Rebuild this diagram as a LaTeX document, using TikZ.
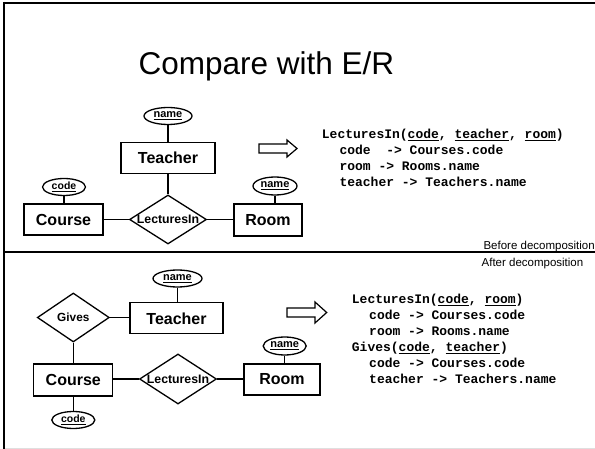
\documentclass[tikz,border=0pt]{standalone}
\usepackage{fontspec}
\setmainfont{Liberation Sans}
\newfontfamily\codefont{Liberation Mono}
\usetikzlibrary{shapes.geometric}
\tikzset{
  ent/.style={draw, line width=1.3pt, inner sep=0pt, font=\fontsize{16}{18}\selectfont\bfseries},
  attr/.style={draw, ellipse, line width=1.3pt, inner sep=0pt, minimum height=17pt, font=\fontsize{11}{12}\selectfont\bfseries},
  rel/.style={draw, diamond, line width=1.3pt, inner sep=0pt, font=\fontsize{12.3}{13}\selectfont\bfseries},
  conn/.style={line width=1.3pt},
  codeline/.style={anchor=base west, inner sep=0pt, font=\fontsize{13}{16}\codefont\bfseries},
  note/.style={anchor=base east, inner sep=0pt, font=\fontsize{11.5}{13}\selectfont},
  bigarrow/.style={draw, line width=1.2pt, fill=white, line join=miter},
  frame/.style={line width=2.2pt}
}
\begin{document}
\begin{tikzpicture}[x=1pt, y=-1pt]
\useasboundingbox (0,0) rectangle (595,449);
% frame
\draw[frame] (4,3) -- (595,3);
\draw[frame] (4,2) -- (4,449);
\draw[frame] (4,251.7) -- (595,251.7);
\draw[line width=1pt, gray!25] (5,448) -- (595,448);
% title
\node[anchor=base, inner sep=0pt, font=\fontsize{31.5}{34}\selectfont] (title) at (266.5,75) {Compare with E/R};

% ---------- top diagram ----------
\node[attr, minimum width=48pt] (tname) at (168,116) {\underline{name}};
\node[ent, minimum width=94pt, minimum height=31pt] (teacher) at (168,158) {Teacher};
\node[rel, minimum width=77pt, minimum height=49pt] (lect) at (168,219.5) {\makebox[0pt]{LecturesIn}};
\node[ent, minimum width=79pt, minimum height=31pt] (course) at (63.5,219.5) {Course};
\node[attr, minimum width=43pt, font=\fontsize{10.5}{12}\selectfont\bfseries] (code) at (64,187) {\underline{code}};
\node[ent, minimum width=68pt, minimum height=32pt] (room) at (268,220) {Room};
\node[attr, minimum width=44pt, minimum height=18pt] (rname) at (275,186) {\underline{name}};

\draw[conn] (tname) -- (teacher);
\draw[conn] (teacher) -- (lect);
\draw[conn] (course) -- (lect);
\draw[conn] (lect.east) -- (lect.east -| room.west);
\draw[conn] (code.south) -- (code.south |- course.north);
\draw[conn] (rname.south) -- (rname.south |- room.north);

\draw[bigarrow] (259,144) -- (287,144) -- (287,140) -- (297,148.5) -- (287,157) -- (287,153) -- (259,153) -- cycle;

\node[codeline] (t1) at (321.7,139) {LecturesIn(\underline{code}, \underline{teacher}, \underline{room})};
\node[codeline] (t2) at (339.3,155) {code~~-> Courses.code};
\node[codeline] (t3) at (339.3,171) {room -> Rooms.name};
\node[codeline] (t4) at (339.3,187) {teacher -> Teachers.name};

\node[note] (before) at (595,249.5) {Before decomposition};
\node[note] (after) at (583.5,266.3) {After decomposition};

% ---------- bottom diagram ----------
\node[attr, minimum width=49pt] (bname) at (177.5,278.5) {\underline{name}};
\node[ent, minimum width=93pt, minimum height=31pt] (bteacher) at (176.5,318.3) {Teacher};
\node[rel, minimum width=72pt, minimum height=49pt, font=\fontsize{11.8}{13}\selectfont\bfseries] (gives) at (73.3,317.5) {\makebox[0pt]{Gives}};
\node[ent, minimum width=79pt, minimum height=32pt] (bcourse) at (73.3,380) {Course};
\node[attr, minimum width=43pt, font=\fontsize{10.5}{12}\selectfont\bfseries] (bcode) at (73.3,420) {\underline{code}};
\node[rel, minimum width=77pt, minimum height=50pt] (blect) at (178,379) {\makebox[0pt]{LecturesIn}};
\node[ent, minimum width=76pt, minimum height=31pt] (broom) at (282,379.5) {Room};
\node[attr, minimum width=43pt, minimum height=18pt] (brname) at (284.7,346) {\underline{name}};

\draw[conn] (bname.south) -- (bname.south |- bteacher.north);
\draw[conn] (gives.east) -- (gives.east -| bteacher.west);
\draw[conn] (gives) -- (bcourse);
\draw[conn] (bcourse.east |- blect.west) -- (blect.west);
\draw[conn] (blect.east) -- (blect.east -| broom.west);
\draw[conn] (bcode) -- (bcourse);
\draw[conn] (brname.south) -- (brname.south |- broom.north);

\draw[bigarrow] (287,308) -- (315,308) -- (315,302) -- (326.7,312.5) -- (315,323) -- (315,317) -- (287,317) -- cycle;

\node[codeline] (b1) at (351.7,303.3) {LecturesIn(\underline{code}, \underline{room})};
\node[codeline] (b2) at (369,319.3) {code -> Courses.code};
\node[codeline] (b3) at (369,335.3) {room -> Rooms.name};
\node[codeline] (b4) at (351.7,351.3) {Gives(\underline{code}, \underline{teacher})};
\node[codeline] (b5) at (369,367.3) {code -> Courses.code};
\node[codeline] (b6) at (369,383) {teacher -> Teachers.name};
\end{tikzpicture}
\end{document}
